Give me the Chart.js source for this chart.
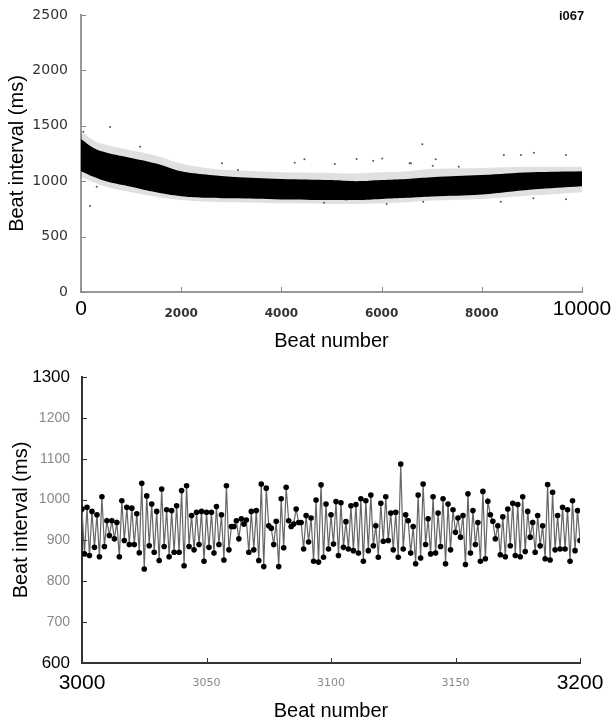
<!DOCTYPE html>
<html lang="en">
<head>
  <meta charset="UTF-8" />
  <title>Beat intervals i067</title>
  <script src="https://cdn.jsdelivr.net/npm/chart.js@4.4.0/dist/chart.umd.min.js"></script>
  <style>
    body {
      margin: 0;
      background: #ffffff;
      width: 611px;
      height: 721px;
      position: relative;
      overflow: hidden;
      font-family: "Liberation Sans", Arial, sans-serif;
    }
    canvas {
      display: block;
      position: absolute;
      left: 0;
    }
    #topChart { top: 0; }
    #bottomChart { top: 360px; }
    #tag {
      position: absolute;
      left: 559px;
      top: 8px;
      font: bold 13px "Liberation Sans", Arial, sans-serif;
      color: #111;
    }
  </style>
</head>
<body>
  <canvas id="topChart" width="611" height="360"></canvas>
  <canvas id="bottomChart" width="611" height="361"></canvas>
  <div id="tag">i067</div>

<script>
  // top panel: dense cloud of 10000 beats, read as envelopes
  const envBeats   = [0, 250, 500, 1000, 1500, 2000, 2500, 3000, 4000, 5000, 5500, 6000, 6500, 7000, 8000, 9000, 10000];
  const coreUpper  = [1380, 1300, 1260, 1210, 1160, 1090, 1060, 1040, 1020, 1010, 1000, 1010, 1020, 1035, 1055, 1080, 1090];
  const coreLower  = [1090, 1040, 1000, 950, 900, 865, 850, 845, 835, 830, 830, 840, 850, 862, 880, 925, 955];
  const fringeUpper = [1450, 1370, 1330, 1280, 1230, 1160, 1120, 1100, 1080, 1075, 1070, 1080, 1090, 1110, 1120, 1130, 1130];
  const fringeLower = [1040, 990, 950, 900, 860, 830, 815, 810, 800, 795, 795, 800, 810, 825, 840, 870, 900];

  const outlierBeats  = [47, 180, 313, 580, 1180, 2813, 3133, 4267, 4460, 4853, 5067, 5500, 5833, 6013, 6100, 6560, 6587, 6813, 6830, 7020, 7080, 7540, 8380, 8440, 8780, 9030, 9040, 9680, 9680];
  const outlierValues = [1447, 776, 950, 1490, 1311, 1161, 1100, 1167, 1198, 806, 1155, 1200, 1185, 1206, 794, 1163, 1163, 1333, 815, 1140, 1198, 1130, 815, 1236, 1236, 846, 1257, 1236, 838];

  const topXTicks = [0, 2000, 4000, 6000, 8000, 10000];

  // bottom panel: beats 3000..3200
  const beatStart = 3000;
  const beatValues = [
    977, 867, 981, 863, 971, 883, 963, 860, 1007, 885,
    948, 912, 948, 904, 944, 860, 997, 900, 981, 890,
    979, 890, 965, 870, 1040, 830, 1009, 887, 989, 871,
    971, 851, 1026, 885, 975, 860, 973, 871, 985, 871,
    1022, 838, 1034, 885,
    961, 877, 969, 890, 971, 849, 969, 883, 969, 869,
    983, 890, 963, 852, 1034, 877, 934, 934, 948, 904,
    953, 940, 950, 871, 971, 877, 973, 851, 1038, 836,
    1028, 936, 930, 890, 947, 836, 1002, 882, 1030, 948,
    934, 940, 977, 944, 944, 879, 961, 896, 955, 849,
    999, 847, 1036, 859, 989, 879, 963, 891, 995, 863,
    992, 883, 946, 879, 985, 875, 988, 869, 1002, 849,
    997, 875, 1011, 887, 936, 859, 991, 898, 1007, 900,
    967, 877, 969, 859, 1087, 879, 963, 948, 869, 934,
    843, 1011, 857, 1038, 890, 953, 867, 1007, 869, 967,
    885, 1002, 843, 989, 877, 975, 920, 955, 908, 961,
    841, 1014, 869, 973, 890, 944, 849, 1020, 855, 996,
    963, 947, 904, 936, 865, 958, 860, 977, 887, 991,
    863, 988, 860, 1007, 873, 971, 908, 944, 871, 961,
    887, 936, 855, 1037, 852, 1018, 877, 961, 879, 981,
    879, 975, 849, 997, 875, 973, 900
  ];

  const pts = (xs, ys) => xs.map((x, i) => ({ x: x, y: ys[i] }));

  // is this tick one of the two end labels drawn large
  const isEnd = (c, a, b) => c.tick && (c.tick.value === a || c.tick.value === b);
  const plain = v => String(v);

  // small tick marks pointing into the plot
  const insideTicks = {
    id: 'insideTicks',
    afterDatasetsDraw(chart, args, opts) {
      const { ctx, chartArea, scales } = chart;
      ctx.save();
      ctx.strokeStyle = opts.color;
      ctx.lineWidth = 1;
      scales.x.ticks.forEach(t => {
        const px = Math.round(scales.x.getPixelForValue(t.value)) + 0.5;
        ctx.beginPath();
        ctx.moveTo(px, chartArea.bottom);
        ctx.lineTo(px, chartArea.bottom - 5);
        ctx.stroke();
      });
      scales.y.ticks.forEach(t => {
        const py = Math.round(scales.y.getPixelForValue(t.value)) + 0.5;
        ctx.beginPath();
        ctx.moveTo(chartArea.left, py);
        ctx.lineTo(chartArea.left + 5, py);
        ctx.stroke();
      });
      ctx.restore();
    }
  };

  function fixX(h) {
    return s => { s.height = h; s.paddingLeft = 0; s.paddingRight = 0; };
  }
  function fixY(w) {
    return s => { s.width = w; s.paddingTop = 0; s.paddingBottom = 0; };
  }

  new Chart(document.getElementById('topChart'), {
    type: 'line',
    data: {
      datasets: [
        { data: pts(envBeats, fringeUpper), borderWidth: 0, pointRadius: 0, tension: 0.4, fill: false, order: 5 },
        { data: pts(envBeats, fringeLower), borderWidth: 0, pointRadius: 0, tension: 0.4, fill: 0, backgroundColor: 'rgba(0,0,0,0.12)', order: 5 },
        { data: pts(envBeats, coreUpper), borderWidth: 0, pointRadius: 0, tension: 0.4, fill: false, order: 3 },
        { data: pts(envBeats, coreLower), borderWidth: 0, pointRadius: 0, tension: 0.4, fill: 2, backgroundColor: '#000000', order: 3 },
        { data: pts(outlierBeats, outlierValues), showLine: false, pointRadius: 1, pointBorderWidth: 0, pointBackgroundColor: '#555', order: 1 }
      ]
    },
    options: {
      responsive: false,
      animation: false,
      layout: { padding: { top: 15, right: 29, bottom: 0, left: 0 } },
      plugins: {
        legend: { display: false },
        tooltip: { enabled: false },
        insideTicks: { color: '#888' }
      },
      scales: {
        x: {
          type: 'linear',
          min: 0,
          max: 10000,
          afterFit: fixX(68),
          afterBuildTicks: s => { s.ticks = topXTicks.map(v => ({ value: v })); },
          grid: { display: false, drawTicks: false },
          border: { display: true, color: '#999', width: 2 },
          ticks: {
            padding: 5,
            crossAlign: 'near',
            maxRotation: 0,
            autoSkip: false,
            callback: plain,
            color: c => isEnd(c, 0, 10000) ? '#000' : '#333',
            font: c => isEnd(c, 0, 10000)
              ? { family: 'Liberation Sans', size: 21 }
              : { family: 'DejaVu Sans', size: 12, weight: 'bold', lineHeight: '33px' }
          },
          title: {
            display: true,
            text: 'Beat number',
            color: '#000',
            font: { family: 'Liberation Sans', size: 20 },
            padding: { top: 0, bottom: 7 }
          }
        },
        y: {
          min: 0,
          max: 2500,
          afterFit: fixY(81),
          grid: { display: false, drawTicks: false },
          border: { display: true, color: '#999', width: 2 },
          ticks: {
            stepSize: 500,
            padding: 13,
            callback: plain,
            color: '#333',
            font: { family: 'DejaVu Sans', size: 14 }
          },
          title: {
            display: true,
            text: 'Beat interval (ms)',
            color: '#000',
            font: { family: 'Liberation Sans', size: 20 },
            padding: { top: 5, bottom: 0 }
          }
        }
      }
    },
    plugins: [insideTicks]
  });

  new Chart(document.getElementById('bottomChart'), {
    type: 'line',
    data: {
      datasets: [{
        data: beatValues.map((v, i) => ({ x: beatStart + i, y: v })),
        borderColor: '#666',
        borderWidth: 1.2,
        pointRadius: 2.8,
        pointBorderWidth: 0,
        pointBackgroundColor: '#000',
        tension: 0
      }]
    },
    options: {
      responsive: false,
      animation: false,
      layout: { padding: { top: 17, right: 31, bottom: 0, left: 0 } },
      plugins: {
        legend: { display: false },
        tooltip: { enabled: false },
        insideTicks: { color: '#333' }
      },
      scales: {
        x: {
          type: 'linear',
          min: 3000,
          max: 3200,
          afterFit: fixX(58),
          grid: { display: false, drawTicks: false },
          border: { display: true, color: '#333', width: 2 },
          ticks: {
            stepSize: 50,
            padding: 8,
            crossAlign: 'near',
            maxRotation: 0,
            autoSkip: false,
            callback: plain,
            color: c => isEnd(c, 3000, 3200) ? '#000' : '#888',
            font: c => isEnd(c, 3000, 3200)
              ? { family: 'Liberation Sans', size: 21 }
              : { family: 'DejaVu Sans', size: 11, lineHeight: '24px' }
          },
          title: {
            display: true,
            text: 'Beat number',
            color: '#000',
            font: { family: 'Liberation Sans', size: 20, lineHeight: 1 },
            padding: { top: 0, bottom: 0 }
          }
        },
        y: {
          min: 600,
          max: 1300,
          afterFit: fixY(82),
          grid: { display: false, drawTicks: false },
          border: { display: true, color: '#333', width: 2 },
          ticks: {
            stepSize: 100,
            padding: 12,
            callback: plain,
            color: c => isEnd(c, 600, 1300) ? '#000' : '#888',
            font: c => isEnd(c, 600, 1300)
              ? { family: 'Liberation Sans', size: 17 }
              : { family: 'Liberation Sans', size: 14 }
          },
          title: {
            display: true,
            text: 'Beat interval (ms)',
            color: '#000',
            font: { family: 'Liberation Sans', size: 20 },
            padding: { top: 9, bottom: 0 }
          }
        }
      }
    },
    plugins: [insideTicks]
  });
</script>
</body>
</html>
